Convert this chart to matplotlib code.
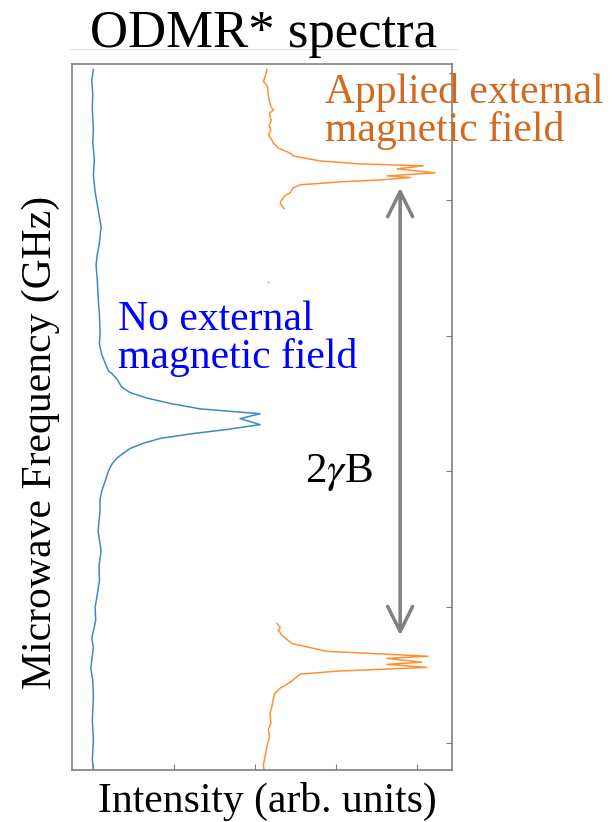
import numpy as np
import matplotlib
matplotlib.use("Agg")
import matplotlib.pyplot as plt
from matplotlib.lines import Line2D

plt.rcParams['font.family'] = ['Liberation Serif', 'DejaVu Serif']
plt.rcParams['mathtext.fontset'] = 'stix'

# ---- data (frequency in GHz, intensity in arb. units) ----
blue_freq = [2.998, 2.994, 2.989, 2.983, 2.976, 2.971, 2.965, 2.959, 2.953, 2.946,
             2.940, 2.934, 2.930, 2.926, 2.920, 2.913, 2.908, 2.901, 2.897, 2.893,
             2.890, 2.887, 2.886, 2.884, 2.881, 2.879, 2.877, 2.875, 2.873, 2.8712,
             2.8694, 2.8672, 2.8654, 2.8639, 2.8621, 2.8603, 2.8584, 2.8566, 2.8548, 2.8526,
             2.8500, 2.8463, 2.8427, 2.8397, 2.8353, 2.8280, 2.8207, 2.8152, 2.8097, 2.8035,
             2.7998, 2.7951, 2.7885, 2.7852, 2.7775, 2.7731, 2.7668, 2.7584, 2.7511, 2.7438,
             2.7397]
blue_int = [0.004, -0.016, -0.004, -0.009, 0.004, -0.004, 0.016, 0.004, 0.025, 0.065,
            0.099, 0.078, 0.053, 0.037, 0.053, 0.065, 0.078, 0.086, 0.078, 0.107,
            0.148, 0.189, 0.231, 0.293, 0.354, 0.457, 0.663, 0.951, 1.321, 2.062,
            1.815, 2.062, 1.651, 1.235, 0.827, 0.617, 0.457, 0.370, 0.293, 0.231,
            0.189, 0.148, 0.107, 0.086, 0.086, 0.062, 0.099, 0.074, 0.078, 0.046,
            0.025, 0.033, -0.016, 0.004, -0.028, -0.004, 0.004, -0.009, 0.004, -0.009,
            0.004]

orange_hi_freq = [2.998, 2.9965, 2.9936, 2.9918, 2.9881, 2.9844, 2.9830, 2.9819, 2.9789, 2.9775,
                  2.9756, 2.9738, 2.9720, 2.9709, 2.9690, 2.9672, 2.9661, 2.9643, 2.9632, 2.9625,
                  2.9614, 2.9599, 2.9588, 2.9582, 2.9573, 2.9566, 2.9555, 2.9544, 2.9526, 2.9515,
                  2.9500, 2.9489, 2.9478, 2.9467]
orange_hi_int = [2.144, 2.136, 2.102, 2.152, 2.164, 2.194, 2.226, 2.177, 2.198, 2.173,
                 2.194, 2.164, 2.206, 2.226, 2.288, 2.432, 2.473, 2.802, 3.296, 4.074,
                 3.753, 4.222, 3.630, 3.914, 3.543, 3.049, 2.556, 2.469, 2.432, 2.370,
                 2.330, 2.309, 2.330, 2.358]

orange_stray_freq = [2.9199]
orange_stray_int = [2.160]

orange_lo_freq = [2.7940, 2.7925, 2.7914, 2.7896, 2.7866, 2.7837, 2.7819, 2.7811, 2.7797, 2.7789,
                  2.7778, 2.7764, 2.7753, 2.7738, 2.7723, 2.7701, 2.7683, 2.7665, 2.7632, 2.7610,
                  2.7573, 2.7548, 2.7522, 2.7485, 2.7449, 2.7419, 2.7397]
orange_lo_int = [2.268, 2.309, 2.288, 2.330, 2.453, 2.885, 4.136, 3.626, 4.058, 3.626,
                 4.120, 3.009, 2.556, 2.494, 2.432, 2.309, 2.247, 2.226, 2.206, 2.185,
                 2.194, 2.164, 2.177, 2.144, 2.123, 2.102, 2.111]

x_ticks = [0, 1, 2, 3, 4]
y_ticks = [2.75, 2.80, 2.85, 2.90, 2.95]
arrow_freq = (2.9544, 2.7896)
arrow_int = 3.79

W, H = 616, 822
fig = plt.figure(figsize=(W / 100, H / 100), dpi=100)

def fx(x):
    return x / W

def fy(y):
    return 1 - y / H

ax = fig.add_axes([fx(72), fy(770), fx(452) - fx(72), fy(64) - fy(770)])

blue_c = '#3d8ac7'
orange_c = '#ff9133'
ax.plot(blue_int, blue_freq, color=blue_c, lw=1.1)
ax.plot(orange_hi_int, orange_hi_freq, color=orange_c, lw=1.1)
ax.plot(orange_lo_int, orange_lo_freq, color=orange_c, lw=1.1)
ax.plot(orange_stray_int, orange_stray_freq, 's', color=orange_c, ms=1.2, mew=0)

ax.set_xlim(-0.26, 4.43)
ax.set_ylim(2.740, 3.0)
ax.set_xticks(x_ticks)
ax.set_yticks(y_ticks)
ax.tick_params(axis='x', direction='in', length=4, color='#808080', labelbottom=False)
ax.tick_params(axis='y', direction='in', length=4, color='#808080', left=False, right=True,
               labelleft=False, labelright=False)
for s in ax.spines.values():
    s.set_color('#808080')
    s.set_linewidth(1.2)

ax.annotate('', xy=(arrow_int, arrow_freq[0]), xytext=(arrow_int, arrow_freq[1]),
            arrowprops=dict(arrowstyle='<->,head_length=0.9,head_width=0.45',
                            color='#808080', lw=2.5, shrinkA=0, shrinkB=0,
                            mutation_scale=20))

# texts
fig.text(fx(264), fy(47), 'ODMR* spectra', fontsize=38, ha='center', va='baseline')
fig.add_artist(Line2D([fx(69), fx(458)], [fy(49), fy(49)], color='#e6e6e6', lw=1))
fig.text(fx(267), fy(812), 'Intensity (arb. units)', fontsize=30, ha='center', va='baseline')
fig.text(fx(41), fy(442), 'Microwave Frequency (GHz)', fontsize=30, rotation=90,
         ha='center', va='center')

fig.text(fx(118), fy(330), 'No external', fontsize=30, color='#0000ff', ha='left', va='baseline')
fig.text(fx(118), fy(368), 'magnetic field', fontsize=30, color='#0000ff', ha='left', va='baseline')
fig.text(fx(325), fy(103), 'Applied external', fontsize=30, color='#d2691e', ha='left', va='baseline')
fig.text(fx(325), fy(141), 'magnetic field', fontsize=30, color='#d2691e', ha='left', va='baseline')
fig.text(fx(305), fy(482), r'2$\gamma$B', fontsize=31, ha='left', va='baseline')

fig.savefig('out.png', dpi=100)
